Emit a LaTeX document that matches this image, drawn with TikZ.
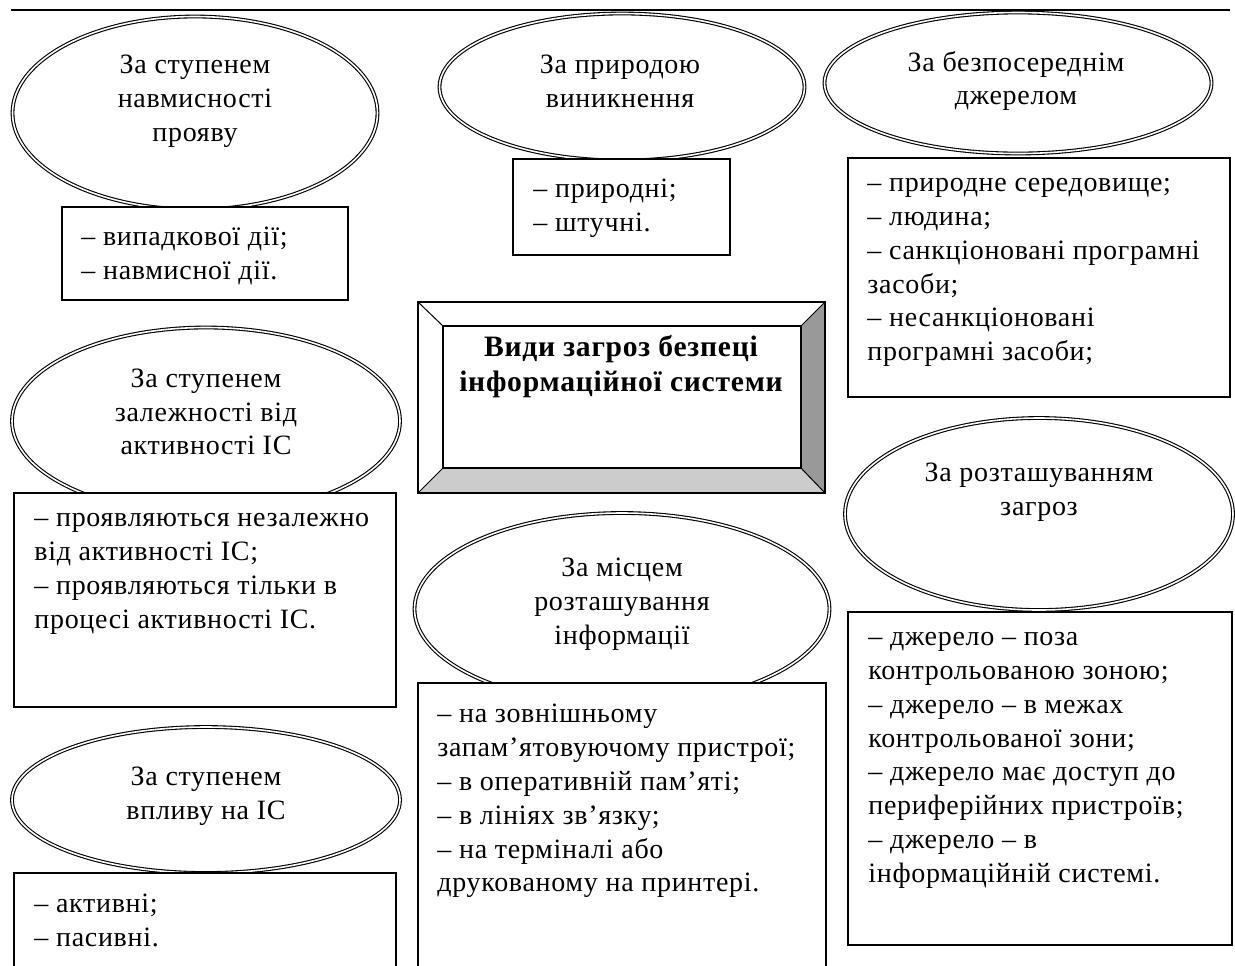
\documentclass[tikz,border=0pt]{standalone}
\usepackage{fontspec}
\setmainfont[LetterSpace=2.5]{Liberation Serif}
\usetikzlibrary{shapes.geometric, positioning}

\tikzset{
  oval/.style={ellipse, draw, double, double distance=0.8pt, line width=0.55pt, fill=white, inner sep=0pt, outer sep=0pt},
  ovaltext/.style={align=center, inner sep=0pt, font=\fontsize{14}{16.9}\selectfont},
  listbox/.style={draw, line width=0.6pt, fill=white, anchor=north west, inner sep=0pt, outer sep=0pt},
  listtext/.style={align=left, anchor=north west, inner sep=0pt, font=\fontsize{14}{16.9}\selectfont},
  framebox/.style={draw, line width=0.6pt, inner sep=0pt, outer sep=0pt},
  titletext/.style={align=center, inner sep=0pt, font=\fontsize{14.8}{17.5}\selectfont\bfseries},
}

\begin{document}
\begin{tikzpicture}[x=0.5pt, y=-0.5pt]

\useasboundingbox (0,0) rectangle (1235,965);

% --- Top rule ---
\draw[line width=1pt] (11,10) -- (1230,10);

% --- Ovals ---
\node[oval, minimum width=182.5pt, minimum height=96.5pt] (intent) at (195,113) {};
\node[oval, minimum width=182.5pt, minimum height=73.5pt] (nature) at (622,87) {};
\node[oval, minimum width=193.5pt, minimum height=70.5pt] (source) at (1018,83) {};
\node[oval, minimum width=194pt, minimum height=93.5pt] (depend) at (206,421) {};
\node[oval, minimum width=207.5pt, minimum height=96pt] (place) at (622,609) {};
\node[oval, minimum width=194pt, minimum height=96pt] (locate) at (1039,514) {};
\node[oval, minimum width=194pt, minimum height=73pt] (impact) at (206,800) {};

\node[ovaltext] (intent-t) at (195,101) {За ступенем\\навмисності\\прояву};
\node[ovaltext] (nature-t) at (620,81) {За природою\\виникнення};
\node[ovaltext] (source-t) at (1016,81) {За безпосереднім\\джерелом};
\node[ovaltext] (depend-t) at (206,412) {За ступенем\\залежності від\\активності ІС};
\node[ovaltext] (place-t) at (622,604) {За місцем\\розташування\\інформації};
\node[ovaltext] (locate-t) at (1039,492) {За розташуванням\\загроз};
\node[ovaltext] (impact-t) at (206,796) {За ступенем\\впливу на ІС};

% --- Lists ---
\node[listbox, minimum width=143pt, minimum height=46.5pt] (intent-b) at (62,207) {};
\node[listbox, minimum width=108.5pt, minimum height=48pt] (nature-b) at (513,159) {};
\node[listbox, minimum width=191pt, minimum height=119.5pt] (source-b) at (848,158) {};
\node[listbox, minimum width=191pt, minimum height=107pt] (depend-b) at (14,493) {};
\node[listbox, minimum width=204pt, minimum height=150pt] (place-b) at (418,683) {};
\node[listbox, minimum width=192pt, minimum height=166.5pt] (locate-b) at (848,612) {};
\node[listbox, minimum width=191pt, minimum height=50pt] (impact-b) at (14,873) {};

\node[listtext, below right=10pt and 9.5pt of intent-b.north west] (intent-l)
  {– випадкової дії;\\– навмисної дії.};
\node[listtext, below right=10pt and 10pt of nature-b.north west] (nature-l)
  {– природні;\\– штучні.};
\node[listtext, below right=10pt and 9.5pt of source-b.north west] (source-l)
  {– природне середовище;\\– людина;\\– санкціоновані програмні\\засоби;\\– несанкціоновані\\програмні засоби;};
\node[listtext, below right=10pt and 10pt of depend-b.north west] (depend-l)
  {– проявляються незалежно\\від активності ІС;\\– проявляються тільки в\\процесі активності ІС.};
\node[listtext, below right=10.5pt and 9.5pt of place-b.north west] (place-l)
  {– на зовнішньому\\запам’ятовуючому пристрої;\\– в оперативній пам’яті;\\– в лініях зв’язку;\\– на терміналі або\\друкованому на принтері.};
\node[listtext, below right=10pt and 10pt of locate-b.north west] (locate-l)
  {– джерело – поза\\контрольованою зоною;\\– джерело – в межах\\контрольованої зони;\\– джерело має доступ до\\периферійних пристроїв;\\– джерело – в\\інформаційній системі.};
\node[listtext, below right=10.5pt and 10pt of impact-b.north west] (impact-l)
  {– активні;\\– пасивні.};

% --- Title frame ---
\node[framebox, minimum width=203.5pt, minimum height=95.5pt] (frame) at (621.5,397.5) {};
\node[framebox, minimum width=179pt, minimum height=71pt] (face) at (622,397) {};
\fill[black!40] (frame.north east) -- (frame.south east) -- (face.south east) -- (face.north east) -- cycle;
\fill[black!20] (frame.south west) -- (frame.south east) -- (face.south east) -- (face.south west) -- cycle;
\draw[line width=0.6pt] (frame.north west) rectangle (frame.south east);
\draw[line width=0.6pt] (face.north west) rectangle (face.south east);
\draw[line width=0.5pt] (frame.north west) -- (face.north west)
  (frame.north east) -- (face.north east)
  (frame.south west) -- (face.south west)
  (frame.south east) -- (face.south east);
\node[titletext] (title) at (621,367) {Види загроз безпеці\\інформаційної системи};

\end{tikzpicture}
\end{document}
